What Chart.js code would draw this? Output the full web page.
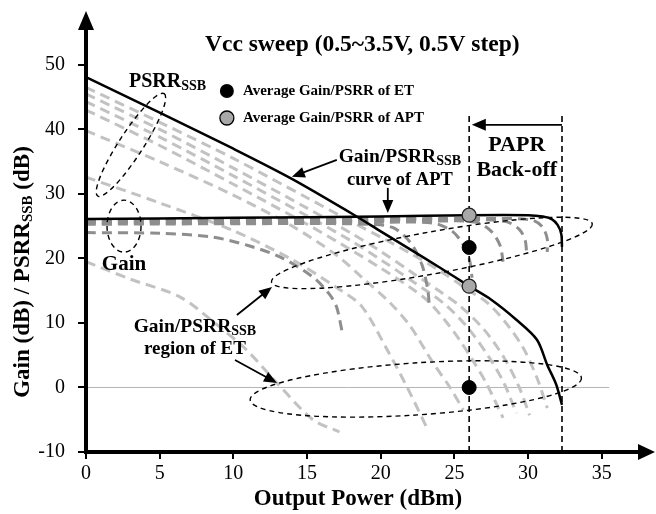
<!DOCTYPE html>
<html>
<head>
<meta charset="utf-8">
<script src="https://cdn.jsdelivr.net/npm/chart.js@4.4.0/dist/chart.umd.min.js"></script>
<style>
  html, body { margin: 0; padding: 0; background: #fff; }
</style>
</head>
<body>
<canvas id="grafico" width="656" height="514"></canvas>
<script>
// Ticks
const xTicks = [0, 5, 10, 15, 20, 25, 30, 35];
const yTicks = [-10, 0, 10, 20, 30, 40, 50];

// Curvas APT (negro)
const psrrApt = [[0,48.1],[5,42.6],[10,37.0],[14,32.3],[18,27.0],[20,24.2],[22,21.4],[24,18.6],[26,15.7],[27.5,13.6],[29.2,10.5],[30.6,7.4],[31.3,3.5],[31.9,0.5],[32.3,-2.7]];
const gainApt = [[0,26.1],[10,26.3],[20,26.5],[26,26.7],[30,26.7],[31,26.5],[31.6,26.1],[32,25.2],[32.25,23.8],[32.3,21.8]];

// PSRR por Vcc (gris claro)
const psrr05 = [[0,19.5],[3,16.8],[6.4,14],[9,9.5],[10.9,5.8],[13.2,0.1],[15.4,-5],[17.2,-6.9]];
const psrr10 = [[0,32.6],[5,28.6],[10,24.3],[14,19.8],[17,15.5],[18.7,12.6],[20.4,6],[21.8,0],[23.1,-6.1]];
const psrr15 = [[0,39.8],[5,35],[10,29.8],[14,25],[17,20.5],[19,16.5],[20.6,13.2],[22,9.5],[23.5,4],[24.7,0],[25.6,-3.5]];
const psrr20 = [[0,43],[5,37.5],[10,31.5],[15,25.3],[18,21.3],[20,18.5],[22,15.5],[23.3,13.2],[25,8.5],[26.3,4],[27.2,0.5],[28.3,-4.7]];
const psrr25 = [[0,44.3],[5,38.8],[10,32.8],[15,26.6],[18,22.7],[20,19.8],[22,16.7],[24.4,12.8],[26,9],[27.4,4.5],[28.4,0.5],[29.2,-4]];
const psrr30 = [[0,45.5],[5,40],[10,34],[15,27.8],[18,23.9],[20,21.1],[22,18],[24,14.9],[25.4,12.6],[27,9],[28.4,4.5],[29.4,0],[30.1,-4.3]];
const psrr35 = [[0,46.5],[5,41.1],[10,35.5],[15,29.4],[18,25.7],[20,23.3],[22,20.8],[24,18.1],[26,15],[27.2,13.2],[28.5,10],[29.7,6],[30.6,1.5],[31.3,-3.2]];

// Ganancia por Vcc (gris oscuro)
const gain05 = [[0,24.0],[5,23.9],[8.6,23.3],[11,22],[13.2,20.2],[15.4,17.1],[16.5,14.5],[17,12.5],[17.4,8.4]];
const gain10 = [[0,25.3],[15,25.4],[19,25.3],[20.8,24.8],[22,22.5],[22.8,19],[23.2,15],[23.3,12.5]];
const gain15 = [[0,25.5],[20,25.6],[23.5,25.5],[24.8,24.3],[25.5,22.5],[26,20],[26.2,17]];
const gain20 = [[0,25.7],[24,25.8],[26.5,25.6],[27.5,24.2],[28.1,22],[28.3,19.5]];
const gain25 = [[0,25.9],[26,26],[28.5,25.7],[29.4,24.5],[29.8,22.8],[29.9,20.9]];
const gain30 = [[0,26.0],[28,26.2],[30.3,25.9],[31,24.8],[31.3,23],[31.3,21]];

// Puntos promedio
const etAvg = [[26,21.7],[26,0]];
const aptAvg = [[26,26.7],[26,15.7]];

const FONT = '"Liberation Serif", "Times New Roman", serif';
const toXY = arr => arr.map(p => ({ x: p[0], y: p[1] }));

function linea(data, color, width, dash, order) {
    return {
        data: toXY(data), showLine: true, pointRadius: 0,
        borderColor: color, borderWidth: width, borderDash: dash,
        tension: 0.3, fill: false, order: order
    };
}

const psrrSets = [psrr05, psrr10, psrr15, psrr20, psrr25, psrr30, psrr35];
const gainSets = [gain05, gain10, gain15, gain20, gain25, gain30];

const datasets = [];
psrrSets.forEach(d => datasets.push(linea(d, '#c2c2c2', 3, [10, 6], 4)));
gainSets.forEach(d => datasets.push(linea(d, '#8e8e8e', 3, [10, 6], 3)));
datasets.push(linea(psrrApt, '#000', 2.5, [], 2));
datasets.push(linea(gainApt, '#000', 2.5, [], 2));
datasets.push({ label: 'Average ET', data: toXY(etAvg), pointRadius: 7, pointBackgroundColor: '#000', pointBorderColor: '#000', pointBorderWidth: 1, order: 0 });
datasets.push({ label: 'Average APT', data: toXY(aptAvg), pointRadius: 7, pointBackgroundColor: '#a8a8a8', pointBorderColor: '#222', pointBorderWidth: 1.3, order: 0 });

// Anotaciones (coordenadas en datos)
const ellipses = [
    { x: 3.05, y: 37.6, rx: 61, ry: 12, rot: -57 },
    { x: 2.58, y: 25.0, rx: 17, ry: 26, rot: 0 },
    { x: 23.47, y: 20.85, rx: 163, ry: 21, rot: -10.3 },
    { x: 22.38, y: -0.23, rx: 166, ry: 26, rot: -3.8 }
];
const arrows = [
    { x1: 17.02, y1: 35.27, x2: 13.97, y2: 32.64 },
    { x1: 20.48, y1: 30.93, x2: 20.48, y2: 27.05 },
    { x1: 10.24, y1: 11.24, x2: 12.62, y2: 15.58 },
    { x1: 10.11, y1: 4.26, x2: 12.96, y2: 0.70 },
    { x1: 32.3, y1: 40.7, x2: 26.18, y2: 40.7 }
];
const vLines = [26, 32.3];

function richText(ctx, parts, x, y, align) {
    let w = 0;
    parts.forEach(p => {
        ctx.font = 'bold ' + p.size + 'px ' + FONT;
        p.w = ctx.measureText(p.t).width;
        w += p.w;
    });
    let cx = align === 'center' ? x - w / 2 : x;
    ctx.textAlign = 'left';
    ctx.textBaseline = 'middle';
    parts.forEach(p => {
        ctx.font = 'bold ' + p.size + 'px ' + FONT;
        ctx.fillText(p.t, cx, y + (p.dy || 0));
        cx += p.w;
    });
}

function flecha(ctx, x1, y1, x2, y2, len, half) {
    const a = Math.atan2(y2 - y1, x2 - x1);
    ctx.beginPath();
    ctx.moveTo(x1, y1);
    ctx.lineTo(x2 - Math.cos(a) * len * 0.8, y2 - Math.sin(a) * len * 0.8);
    ctx.stroke();
    ctx.beginPath();
    ctx.moveTo(x2, y2);
    ctx.lineTo(x2 - Math.cos(a) * len - Math.sin(a) * half, y2 - Math.sin(a) * len + Math.cos(a) * half);
    ctx.lineTo(x2 - Math.cos(a) * len + Math.sin(a) * half, y2 - Math.sin(a) * len - Math.cos(a) * half);
    ctx.closePath();
    ctx.fill();
}

let annotDone = false;

function drawAnnotations(chart) {
    const ctx = chart.ctx, xs = chart.scales.x, ys = chart.scales.y;
    const px = v => xs.getPixelForValue(v), py = v => ys.getPixelForValue(v);
    ctx.save();
    ctx.strokeStyle = '#000';
    ctx.fillStyle = '#000';
    // lineas verticales
    ctx.lineWidth = 1.6;
    ctx.setLineDash([6, 4]);
    vLines.forEach(v => {
        ctx.beginPath();
        ctx.moveTo(px(v), py(-10));
        ctx.lineTo(px(v), py(42.6));
        ctx.stroke();
    });
    // elipses
    ctx.lineWidth = 1.4;
    ctx.setLineDash([5, 4]);
    ellipses.forEach(e => {
        ctx.beginPath();
        ctx.ellipse(px(e.x), py(e.y), e.rx, e.ry, e.rot * Math.PI / 180, 0, Math.PI * 2);
        ctx.stroke();
    });
    // flechas
    ctx.setLineDash([]);
    ctx.lineWidth = 1.8;
    arrows.forEach((a, i) => {
        const big = i === 4;
        flecha(ctx, px(a.x1), py(a.y1), px(a.x2), py(a.y2), big ? 14 : 13, big ? 6 : 5.5);
    });
    ctx.restore();
}

const anotaciones = {
    id: 'anotaciones',
    beforeDatasetsDraw(chart) {
        annotDone = false;
        const ctx = chart.ctx, xs = chart.scales.x, ys = chart.scales.y;
        ctx.save();
        ctx.strokeStyle = '#b4b4b4';
        ctx.lineWidth = 1;
        ctx.beginPath();
        ctx.moveTo(xs.getPixelForValue(0), ys.getPixelForValue(0));
        ctx.lineTo(xs.getPixelForValue(35.5), ys.getPixelForValue(0));
        ctx.stroke();
        ctx.restore();
    },
    beforeDatasetDraw(chart, args) {
        const ds = chart.data.datasets[args.index];
        if (!annotDone && ds.label && ds.label.indexOf('Average') === 0) {
            drawAnnotations(chart);
            annotDone = true;
        }
    },
    afterDatasetsDraw(chart) {
        const ctx = chart.ctx, xs = chart.scales.x, ys = chart.scales.y, ca = chart.chartArea;
        const px = v => xs.getPixelForValue(v), py = v => ys.getPixelForValue(v);
        ctx.save();
        ctx.fillStyle = '#000';
        ctx.strokeStyle = '#000';

        // ejes con flechas
        ctx.lineWidth = 4;
        ctx.beginPath();
        ctx.moveTo(ca.left - 2, ca.bottom);
        ctx.lineTo(ca.right - 6, ca.bottom);
        ctx.moveTo(ca.left, ca.bottom + 2);
        ctx.lineTo(ca.left, ca.top + 16);
        ctx.stroke();
        ctx.beginPath();
        ctx.moveTo(ca.right + 9, ca.bottom);
        ctx.lineTo(ca.right - 8, ca.bottom - 8);
        ctx.lineTo(ca.right - 8, ca.bottom + 8);
        ctx.closePath();
        ctx.fill();
        ctx.beginPath();
        ctx.moveTo(ca.left, ca.top + 1);
        ctx.lineTo(ca.left - 8, ca.top + 20);
        ctx.lineTo(ca.left + 8, ca.top + 20);
        ctx.closePath();
        ctx.fill();

        // marcadores de leyenda
        ctx.lineWidth = 1.3;
        ctx.beginPath();
        ctx.arc(px(9.56), py(45.94), 7, 0, Math.PI * 2);
        ctx.fill();
        ctx.beginPath();
        ctx.arc(px(9.56), py(41.76), 7, 0, Math.PI * 2);
        ctx.fillStyle = '#a8a8a8';
        ctx.fill();
        ctx.stroke();
        ctx.fillStyle = '#000';

        // textos
        richText(ctx, [{ t: 'Vcc sweep (0.5~3.5V, 0.5V step)', size: 23.5 }], px(18.75), py(53.07), 'center');
        richText(ctx, [{ t: 'PSRR', size: 20 }, { t: 'SSB', size: 14, dy: 4 }], px(2.92), py(47.34), 'left');
        richText(ctx, [{ t: 'Average Gain/PSRR of ET', size: 15 }], px(10.65), py(45.94), 'left');
        richText(ctx, [{ t: 'Average Gain/PSRR of APT', size: 15 }], px(10.65), py(41.76), 'left');
        richText(ctx, [{ t: 'Gain/PSRR', size: 19.5 }, { t: 'SSB', size: 14, dy: 4 }], px(21.3), py(35.7), 'center');
        richText(ctx, [{ t: 'curve of APT', size: 18.5 }], px(21.3), py(32.15), 'center');
        richText(ctx, [{ t: 'PAPR', size: 22 }], px(29.23), py(37.57), 'center');
        richText(ctx, [{ t: 'Back-off', size: 22 }], px(29.23), py(33.7), 'center');
        richText(ctx, [{ t: 'Gain', size: 21 }], px(2.58), py(18.98), 'center');
        richText(ctx, [{ t: 'Gain/PSRR', size: 19.5 }, { t: 'SSB', size: 14, dy: 4 }], px(7.39), py(9.37), 'center');
        richText(ctx, [{ t: 'region of ET', size: 19 }], px(7.39), py(5.96), 'center');

        // titulos de ejes
        richText(ctx, [{ t: 'Output Power (dBm)', size: 23 }], 358, 499, 'center');
        ctx.translate(23, 272);
        ctx.rotate(-Math.PI / 2);
        richText(ctx, [{ t: 'Gain (dB) / PSRR', size: 23 }, { t: 'SSB', size: 15, dy: 5 }, { t: ' (dB)', size: 23 }], 0, 0, 'center');
        ctx.restore();
    }
};

const ctx = document.getElementById('grafico').getContext('2d');
const chartInstance = new Chart(ctx, {
    type: 'scatter',
    data: { datasets: datasets },
    options: {
        responsive: false,
        animation: false,
        devicePixelRatio: 1,
        layout: { padding: { top: 10, right: 10, left: 0, bottom: 0 } },
        plugins: { legend: { display: false }, tooltip: { enabled: false } },
        scales: {
            x: {
                type: 'linear', min: 0, max: 38,
                afterBuildTicks: s => { s.ticks = xTicks.map(v => ({ value: v })); },
                afterFit: s => { s.height = 62; s.paddingLeft = 0; s.paddingRight = 0; },
                ticks: { font: { family: FONT, size: 20 }, color: '#000', padding: 3, maxRotation: 0, autoSkip: false },
                grid: { drawOnChartArea: false, drawTicks: true, tickLength: 7, color: '#000', lineWidth: 2 },
                border: { display: false }
            },
            y: {
                type: 'linear', min: -10, max: 58.5,
                afterBuildTicks: s => { s.ticks = yTicks.map(v => ({ value: v })); },
                afterFit: s => { s.width = 86; s.paddingTop = 0; s.paddingBottom = 0; },
                ticks: { font: { family: FONT, size: 20 }, color: '#000', padding: 13, autoSkip: false },
                grid: { drawOnChartArea: false, drawTicks: true, tickLength: 8, color: '#000', lineWidth: 2 },
                border: { display: false }
            }
        }
    },
    plugins: [anotaciones]
});
</script>
</body>
</html>
